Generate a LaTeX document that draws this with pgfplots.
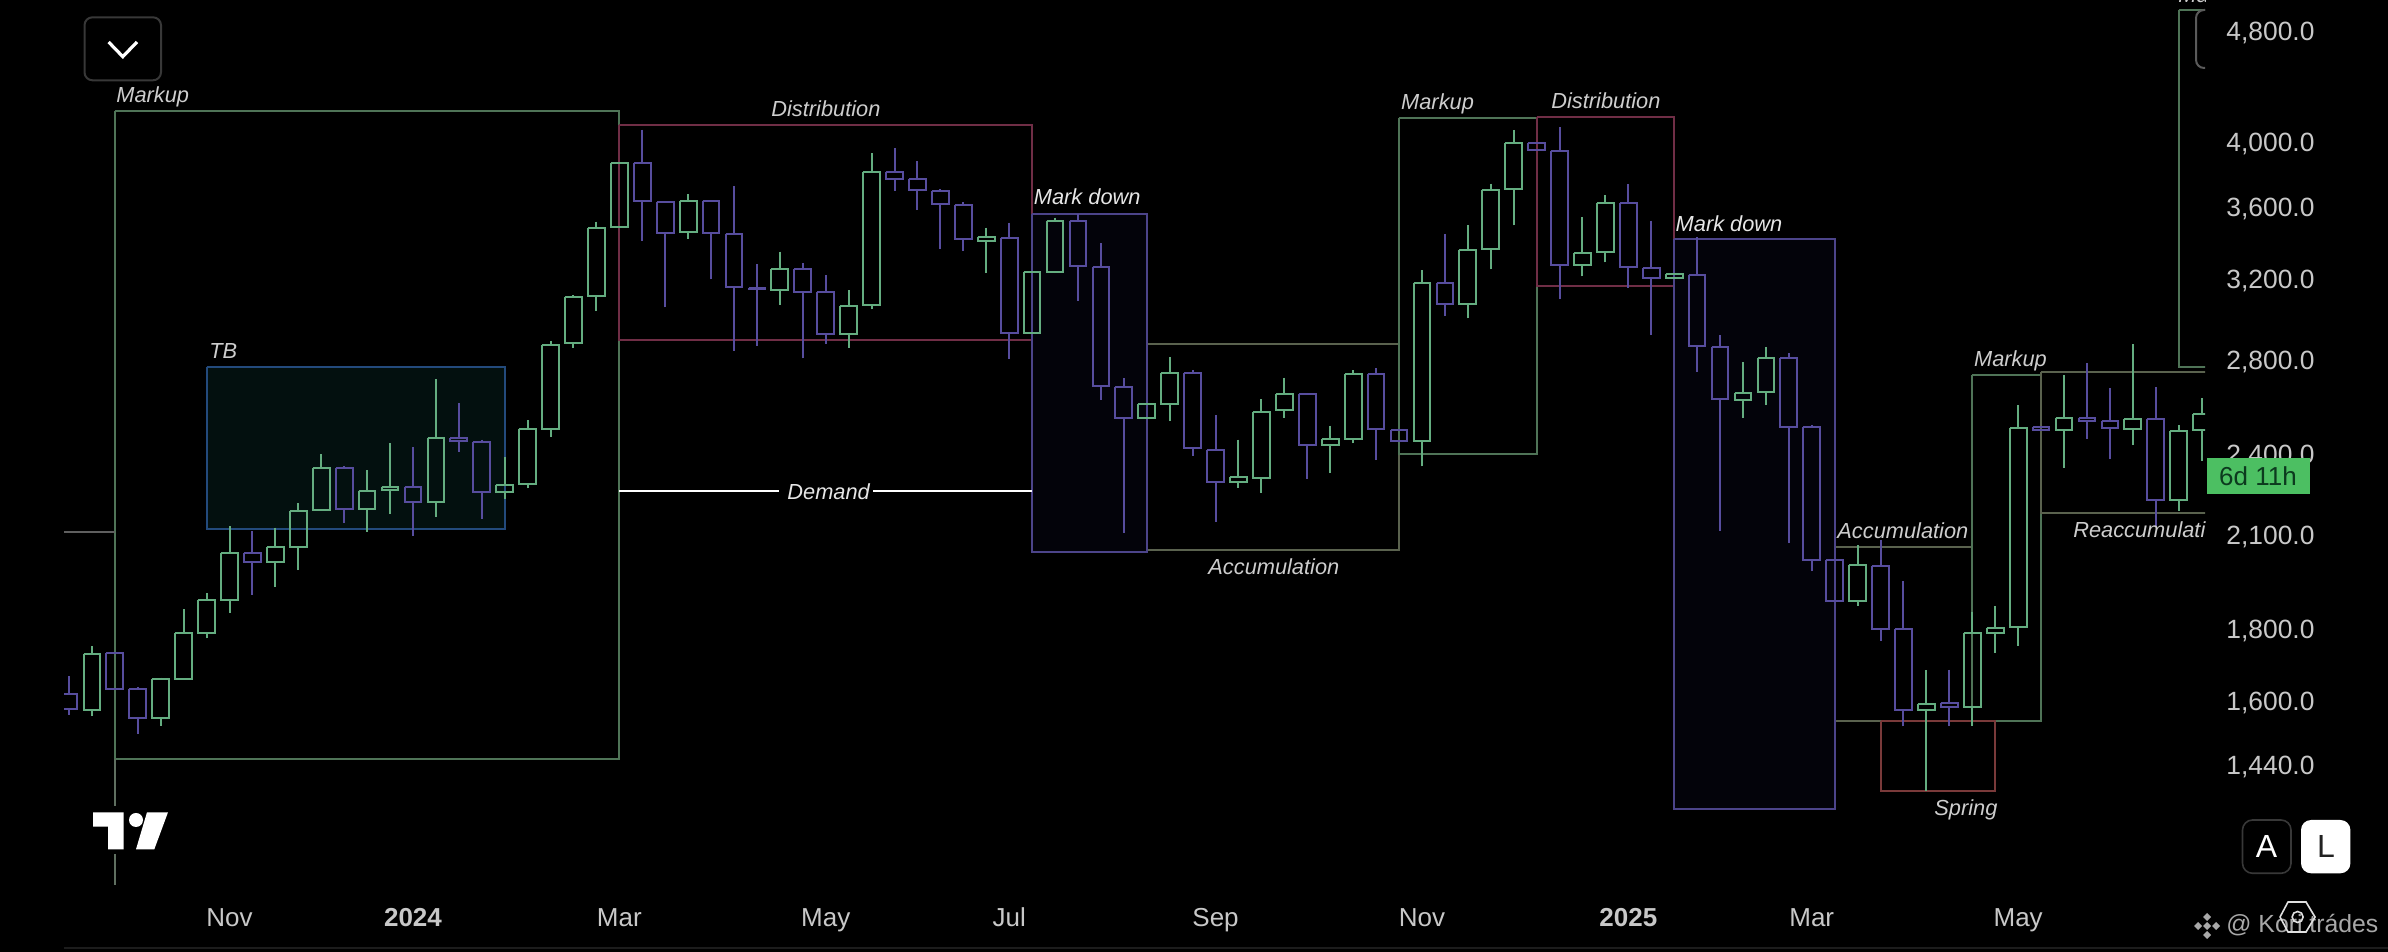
\documentclass[border=0pt]{standalone}
\usepackage{pgfplots}
\usepackage{pgfplotstable}
\usepackage{fontspec}
\setmainfont{Liberation Sans}
\pgfplotsset{compat=1.18}
\definecolor{cgreen}{HTML}{64AD80}
\definecolor{cpurple}{HTML}{574D9E}
\definecolor{bgreen}{HTML}{4F7457}
\definecolor{bred}{HTML}{702E46}
\definecolor{bpurple}{HTML}{4C448A}
\definecolor{bblue}{HTML}{234A7C}
\definecolor{bolive}{HTML}{5A624E}
\definecolor{lbl}{HTML}{CDCDCD}
\definecolor{lblw}{HTML}{E6E6E6}
\definecolor{tick}{HTML}{C8C8C8}
\definecolor{tbfill}{HTML}{03100F}
\definecolor{mdfill}{HTML}{03030A}
\definecolor{sprred}{HTML}{7A3A3A}
\definecolor{gline}{HTML}{5F5F5F}
\definecolor{gvline}{HTML}{5F6F60}
\definecolor{brk}{HTML}{5A5A5A}
\definecolor{btn}{HTML}{383838}
\definecolor{badge}{HTML}{4CBF62}
\definecolor{badgetxt}{HTML}{0C3A1E}
\definecolor{ltxt}{HTML}{222222}
\definecolor{wm}{HTML}{A8A8A8}
\definecolor{hex}{HTML}{E0E0E0}
\definecolor{rule}{HTML}{1C1C1C}
\pgfplotstableread{
i o h l c
0 1620 1667 1566 1580
1 1577 1752 1562 1729
2 1732 1732 1632 1632
3 1632 1639 1517 1556
4 1556 1664 1538 1660
5 1660 1861 1658 1790
6 1790 1911 1775 1891
7 1890 2133 1851 2043
8 2043 2116 1906 2011
9 2011 2128 1931 2060
10 2061 2215 1985 2188
11 2189 2401 2189 2347
12 2347 2355 2144 2193
13 2193 2338 2114 2261
14 2264 2444 2177 2276
15 2276 2430 2100 2219
16 2219 2715 2166 2466
17 2466 2610 2410 2453
18 2450 2459 2160 2256
19 2256 2388 2230 2283
20 2285 2538 2270 2500
21 2503 2892 2470 2872
22 2880 3116 2860 3109
23 3112 3517 3036 3480
24 3484 3873 3484 3873
25 3873 4090 3407 3637
26 3633 3633 3055 3449
27 3456 3679 3419 3639
28 3639 3639 3198 3449
29 3447 3727 2846 3158
30 3156 3280 2868 3146
31 3143 3348 3068 3254
32 3254 3284 2810 3133
33 3131 3219 2877 2924
34 2922 3143 2860 3062
35 3065 3934 3045 3814
36 3814 3970 3699 3773
37 3770 3884 3583 3703
38 3699 3707 3362 3617
39 3615 3629 3351 3416
40 3408 3482 3232 3427
41 3425 3511 2808 2927
42 2927 3237 2927 3237
43 3239 3540 3232 3523
44 3523 3563 3087 3269
45 3265 3394 2624 2684
46 2681 2719 2110 2549
47 2549 2607 2549 2607
48 2607 2816 2535 2743
49 2743 2757 2394 2424
50 2417 2559 2148 2293
51 2292 2459 2273 2312
52 2310 2627 2254 2574
53 2581 2722 2548 2651
54 2651 2655 2305 2436
55 2436 2516 2327 2462
56 2463 2756 2444 2739
57 2739 2764 2377 2500
58 2497 2497 2452 2452
59 2453 3246 2353 3180
60 3180 3447 3011 3072
61 3072 3494 3000 3359
62 3361 3743 3251 3705
63 3709 4088 3494 4002
64 4002 4002 3953 3953
65 3950 4105 3097 3274
66 3274 3541 3214 3342
67 3346 3673 3289 3627
68 3627 3739 3156 3263
69 3259 3523 2919 3208
70 3205 3226 3205 3226
71 3223 3430 2748 2868
72 2864 2918 2117 2627
73 2623 2792 2548 2655
74 2657 2863 2602 2813
75 2813 2832 2075 2511
76 2510 2519 1982 2018
77 2017 2017 1886 1886
78 1886 2068 1872 2001
79 1999 2087 1768 1802
80 1802 1949 1536 1578
81 1578 1684 1382 1593
82 1595 1686 1536 1585
83 1585 1854 1538 1789
84 1789 1872 1733 1806
85 1808 2602 1753 2506
86 2510 2510 2497 2497
87 2497 2732 2347 2548
88 2548 2788 2462 2534
89 2535 2677 2381 2507
90 2504 2876 2437 2542
91 2542 2680 2130 2227
92 2227 2519 2187 2494
93 2497 2631 2375 2564
}\ohlc
\newcommand\candle[1]{%
  \pgfplotstablegetelem{#1}{o}\of\ohlc\let\vo\pgfplotsretval
  \pgfplotstablegetelem{#1}{h}\of\ohlc\let\vh\pgfplotsretval
  \pgfplotstablegetelem{#1}{l}\of\ohlc\let\vl\pgfplotsretval
  \pgfplotstablegetelem{#1}{c}\of\ohlc\let\vc\pgfplotsretval
  \pgfmathsetmacro\xa{#1-0.365}%
  \pgfmathsetmacro\xb{#1+0.365}%
  \ifnum\vc<\vo\relax
    \def\col{cpurple}\let\ytop\vo\let\ybot\vc
  \else
    \def\col{cgreen}\let\ytop\vc\let\ybot\vo
  \fi
  \edef\tmp{%
    \noexpand\addplot[\col,line width=1pt] coordinates {(\xa,\ytop)(\xb,\ytop)(\xb,\ybot)(\xa,\ybot)(\xa,\ytop)};
    \noexpand\addplot[\col,line width=1pt] coordinates {(#1,\vh)(#1,\ytop)};
    \noexpand\addplot[\col,line width=1pt] coordinates {(#1,\vl)(#1,\ybot)};
  }\tmp
}
\newcommand\zone[6][none]{% fill, x1, x2, top, bottom, colour
  \addplot[draw=#6,fill=#1,line width=1pt] coordinates {(#2,#4)(#3,#4)(#3,#5)(#2,#5)(#2,#4)};
}
\newcommand\lab[4][lbl]{\node[anchor=base west,inner sep=0pt,text=#1,font=\fontsize{10.9}{12}\selectfont\itshape] at (#2,#3) {#4};}
\begin{document}
\begin{tikzpicture}
\path[use as bounding box] (0,0) rectangle (1194pt,476pt);
\fill[black] (0,0) rectangle (1194pt,476pt);
\begin{axis}[
  at={(32pt,33.5pt)},anchor=south west,
  width=1070.5pt,height=442.5pt,scale only axis,
  ymode=log,
  xmin=-0.218,xmax=93.15,ymin=1184,ymax=5059,
  axis line style={draw=none},
  major tick length=0pt,minor tick length=0pt,yminorticks=false,
  ytick={1440,1600,1800,2100,2400,2800,3200,3600,4000,4800},
  yticklabels={{1,440.0},{1,600.0},{1,800.0},{2,100.0},{2,400.0},{2,800.0},{3,200.0},{3,600.0},{4,000.0},{4,800.0}},
  yticklabel pos=right,
  yticklabel style={anchor=west,inner sep=0pt,xshift=10.5pt,yshift=-0.7pt,text=tick,font=\fontsize{13.2}{14}\selectfont},
  xtick={7,15,24,33,41,50,59,68,76,85},
  xticklabels={Nov,{\bfseries 2024},Mar,May,Jul,Sep,Nov,{\bfseries 2025},Mar,May},
  xticklabel style={anchor=base,inner sep=0pt,yshift=-20.8pt,text=tick,font=\fontsize{13}{14}\selectfont},
]
% structure boxes
\zone[black]{2}{24}{4218}{1457}{bgreen}
\zone[tbfill]{6}{19}{2771}{2123}{bblue}
\zone{24}{42}{4121}{2896}{bred}
\zone{47}{58}{2877}{2050}{bolive}
\zone[mdfill]{42}{47}{3563}{2046}{bpurple}
\zone{58}{64}{4170}{2401}{bgreen}
\zone{64}{70}{4176}{3164}{bred}
\zone{77}{83}{2063}{1550}{bolive}
\zone[mdfill]{70}{77}{3416}{1341}{bpurple}
\zone{83}{86}{2735}{1550}{bgreen}
\zone{79}{84}{1550}{1381}{sprred}
\zone{86}{96}{2748}{2181}{bolive}
\zone{92}{96}{4976}{2771}{bgreen}
\addplot[draw=gline,line width=1pt] coordinates {(-0.218,2114)(2,2114)};
\addplot[draw=gvline,line width=1pt] coordinates {(2,1457)(2,1184)};
\addplot[draw=white,line width=1pt] coordinates {(24,2261)(30.95,2261)};
\addplot[draw=white,line width=1pt] coordinates {(35.08,2261)(42,2261)};
\pgfplotsforeachungrouped \r in {0,...,93}{\candle{\r}}
\end{axis}
% pixel-coordinate overlay (annotations and interface furniture)
\begin{scope}[x=0.5pt,y=-0.5pt,shift={(0,476pt)}]
\begin{scope}
\clip (64,0) rectangle (2205,885);
\lab{116}{102.7}{Markup}
\lab{209}{359}{TB}
\lab{771}{116.7}{Distribution}
\lab[lblw]{1033.5}{205}{Mark down}
\lab[lblw]{787}{500}{Demand}
\lab{1208}{575}{Accumulation}
\lab{1400.8}{110}{Markup}
\lab{1551}{109}{Distribution}
\lab[lblw]{1675.3}{232}{Mark down}
\lab{1837}{539}{Accumulation}
\lab{1973.7}{366.7}{Markup}
\lab{2072.9}{538}{Reaccumulation}
\lab{1934}{816}{Spring}
\lab{2178}{3}{Markup}
\draw[draw=brk,line width=1pt,rounded corners=4pt] (2208,10) -- (2196,10) -- (2196,68) -- (2208,68);
\end{scope}
% top-left button
\draw[draw=btn,line width=1pt,rounded corners=4pt] (84.5,17.3) rectangle (161,80.3);
\draw[white,line width=1.6pt] (108.6,42) -- (122.8,56.7) -- (137,42);
% TradingView mark
\fill[black] (90,806) rectangle (172,854);
\fill[white] (93,812.3) -- (123.7,812.3) -- (123.7,849.3) -- (108,849.3) -- (108,826.7) -- (93,826.7) -- cycle;
\fill[white] (136,820) circle (7);
\fill[white] (147,812.3) -- (168,812.3) -- (154.3,849.3) -- (136,849.3) -- cycle;
% countdown badge
\fill[badge] (2207,458) rectangle (2310,494);
\node[anchor=center,inner sep=0pt,text=badgetxt,font=\fontsize{13}{14}\selectfont] at (2258,476) {6d 11h};
% A / L buttons
\draw[draw=btn,line width=0.8pt,rounded corners=5pt] (2242.5,820) rectangle (2291,873.3);
\node[inner sep=0pt,text=white,font=\fontsize{16}{18}\selectfont] at (2266.5,846.5) {A};
\fill[white,rounded corners=5pt] (2301,820) rectangle (2350.4,873.3);
\node[inner sep=0pt,text=ltxt,font=\fontsize{16}{18}\selectfont] at (2326,846.5) {L};
% watermark: four small diamonds round a centre one
\foreach \dx/\dy in {0/-9,0/9,-9/0,9/0,0/0}{
  \fill[wm] ({2207+\dx},{926+\dy-4}) -- ({2207+\dx+4},{926+\dy}) -- ({2207+\dx},{926+\dy+4}) -- ({2207+\dx-4},{926+\dy}) -- cycle;
}
\node[anchor=base west,inner sep=0pt,text=wm,font=\fontsize{12.4}{14}\selectfont] at (2226,933) {@ Kori trádes};
\draw[draw=hex,line width=0.8pt] (2288,902) -- (2306,902) -- (2315,917) -- (2306,932) -- (2288,932) -- (2280,917) -- cycle;
\draw[draw=hex,line width=0.8pt] (2297.6,917) circle (5.5);
\draw[draw=rule,line width=0.6pt] (64,948) -- (2388,948);
\end{scope}
\end{tikzpicture}
\end{document}
